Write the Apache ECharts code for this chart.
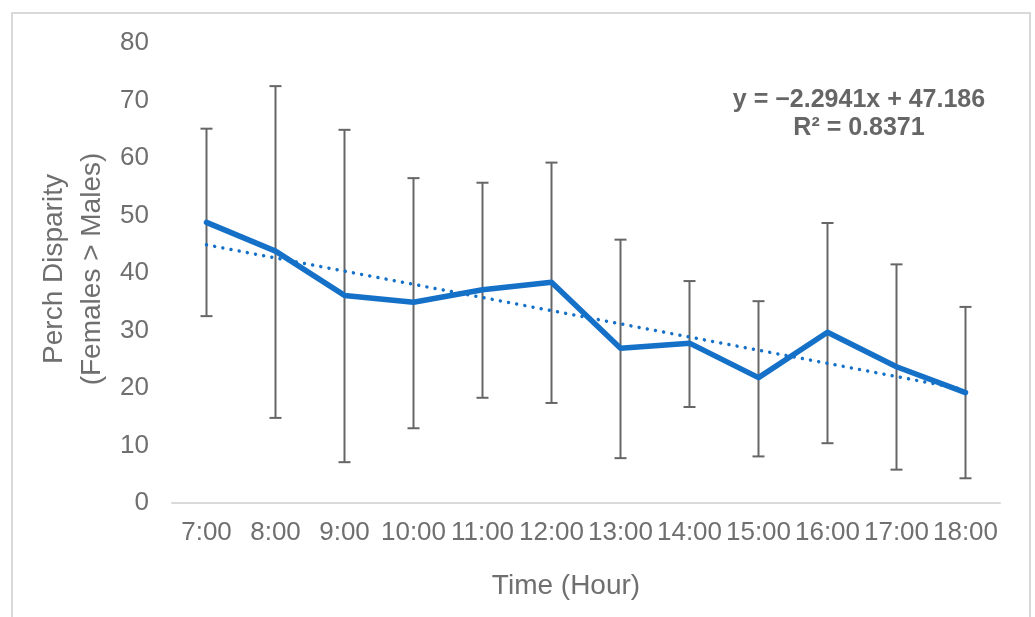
<!DOCTYPE html>
<html>
<head>
<meta charset="utf-8">
<script src="https://cdn.jsdelivr.net/npm/echarts@6/dist/echarts.min.js"></script>
<style>
html,body{margin:0;padding:0;background:#fff;}
#chart{width:1035px;height:617px;}
</style>
</head>
<body>
<div id="chart"></div>
<script>
const categories = ['7:00','8:00','9:00','10:00','11:00','12:00','13:00','14:00','15:00','16:00','17:00','18:00'];
const meanValues = [48.8, 43.8, 36.1, 34.9, 37.1, 38.4, 26.9, 27.8, 21.8, 29.7, 23.7, 19.2];
const errorLow  = [32.5, 14.8, 7.1, 13.0, 18.3, 17.4, 7.8, 16.7, 8.1, 10.4, 5.8, 4.3];
const errorHigh = [65.1, 72.5, 64.9, 56.5, 55.7, 59.2, 45.8, 38.6, 35.1, 48.7, 41.5, 34.1];
const trendCategories = ['7:00', '18:00'];
const trendValues = [44.9, 19.7];
const yTicks = {min: 0, max: 80, interval: 10};
const equationText = 'y = \u22122.2941x + 47.186\nR\u00b2 = 0.8371';

const FONT = '"Liberation Sans", Arial, sans-serif';
const TEXT = '#6f6f6f';
const BLUE = '#1570c8';

const chart = echarts.init(document.getElementById('chart'), null, {renderer: 'canvas'});

const errorData = categories.map((c, i) => [i, errorLow[i], errorHigh[i]]);

chart.setOption({
  animation: false,
  backgroundColor: '#fff',
  grid: {left: 172, right: 35, top: 43, bottom: 114, containLabel: false},
  xAxis: {
    type: 'category',
    data: categories,
    boundaryGap: true,
    axisLine: {show: true, lineStyle: {color: '#d9d9d9', width: 2}},
    axisTick: {show: false},
    axisLabel: {color: TEXT, fontFamily: FONT, fontSize: 26, margin: 17, interval: 0},
    splitLine: {show: false}
  },
  yAxis: {
    type: 'value',
    min: yTicks.min, max: yTicks.max, interval: yTicks.interval,
    axisLine: {show: false},
    axisTick: {show: false},
    splitLine: {show: false},
    axisLabel: {color: TEXT, fontFamily: FONT, fontSize: 26, margin: 23}
  },
  graphic: [
    {type: 'rect', shape: {x: 12, y: 13, width: 1018, height: 620}, style: {fill: 'none', stroke: '#d9d9d9', lineWidth: 2}, z: -10, silent: true},
    {type: 'text', x: 73, y: 269, rotation: Math.PI / 2,
     style: {text: 'Perch Disparity\n(Females > Males)', fill: TEXT, font: '28px ' + FONT, align: 'center', verticalAlign: 'middle', lineHeight: 38}},
    {type: 'text', x: 566, y: 586,
     style: {text: 'Time (Hour)', fill: TEXT, font: '28px ' + FONT, align: 'center', verticalAlign: 'middle'}},
    {type: 'text', x: 859, y: 114,
     style: {text: equationText, fill: '#666666', font: 'bold 25px ' + FONT, align: 'center', verticalAlign: 'middle', lineHeight: 28}}
  ],
  series: [
    {
      type: 'custom',
      name: 'error',
      z: 1,
      data: errorData,
      renderItem: function (params, api) {
        const x = api.value(0);
        const lo = api.coord([x, api.value(1)]);
        const hi = api.coord([x, api.value(2)]);
        const cap = 6;
        const st = {stroke: '#666666', lineWidth: 2};
        return {
          type: 'group',
          children: [
            {type: 'line', shape: {x1: hi[0], y1: hi[1], x2: lo[0], y2: lo[1]}, style: st},
            {type: 'line', shape: {x1: hi[0] - cap, y1: hi[1], x2: hi[0] + cap, y2: hi[1]}, style: st},
            {type: 'line', shape: {x1: lo[0] - cap, y1: lo[1], x2: lo[0] + cap, y2: lo[1]}, style: st}
          ]
        };
      }
    },
    {
      type: 'line',
      name: 'trend',
      z: 2,
      data: trendCategories.map((c, i) => [c, trendValues[i]]),
      showSymbol: false,
      symbol: 'none',
      lineStyle: {color: BLUE, width: 3.5, type: [0.01, 8.3], cap: 'round'}
    },
    {
      type: 'line',
      name: 'mean',
      z: 3,
      data: meanValues,
      showSymbol: false,
      symbol: 'none',
      lineStyle: {color: BLUE, width: 5.5, cap: 'round', join: 'round'}
    }
  ]
});
</script>
</body>
</html>
